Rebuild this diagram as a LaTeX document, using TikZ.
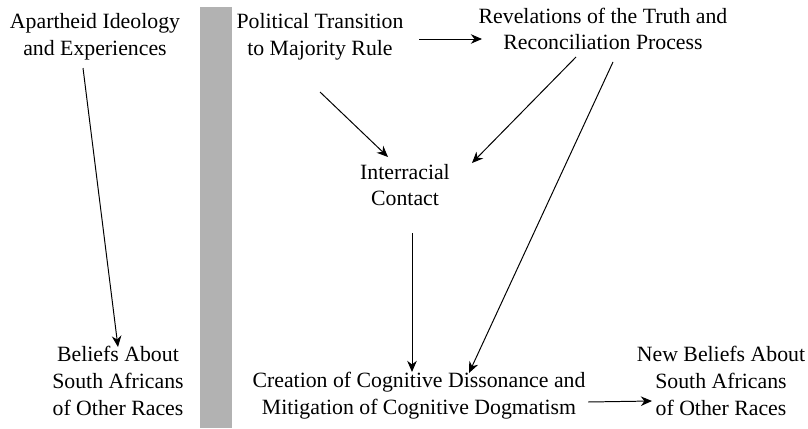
\documentclass[tikz,border=0pt]{standalone}
\usepackage{fontspec}
\setmainfont{Liberation Serif}
\usetikzlibrary{arrows.meta, calc}

\begin{document}
\begin{tikzpicture}[x=0.025cm, y=-0.025cm, >={Stealth[length=2.8mm, width=2.4mm]},
  box/.style={align=center, inner sep=0pt, font=\fontsize{15.5}{19}\selectfont},
  link/.style={->, line width=0.7pt}]
\useasboundingbox (0,0) rectangle (808,428);
% 分隔条
\fill[black!30] (200,7) rectangle (232,428);
% 左侧
\node[box] (apart) at (95,37) {Apartheid Ideology\\and Experiences};
\node[box] (belief) at (118,381) {Beliefs About\\South Africans\\of Other Races};
% 右侧
\node[box] (polit) at (320,37) {Political Transition\\to Majority Rule};
\node[box] (revel) at (603,29) {Revelations of the Truth and\\Reconciliation Process};
\node[box] (inter) at (405,185) {Interracial\\Contact};
\node[box] (creat) at (419,396) {Creation of Cognitive Dissonance and\\Mitigation of Cognitive Dogmatism};
\node[box] (newbel) at (721,381) {New Beliefs About\\South Africans\\of Other Races};
% 箭头
\draw[link] ($(apart)+(-12,31)$) -- ($(belief)+(0,-34)$);
\draw[link] ($(polit)+(99,2)$) -- ($(revel)+(-121,10)$);
\draw[link] ($(polit)+(0,55)$) -- ($(inter)+(-17,-28)$);
\draw[link] ($(revel)+(-27,28)$) -- ($(inter)+(67,-22)$);
\draw[link] ($(revel)+(10,33)$) -- ($(creat)+(50,-23)$);
\draw[link] ($(inter)+(7,48)$) -- ($(creat)+(-7,-24)$);
\draw[link] ($(creat)+(169,6)$) -- ($(newbel)+(-69,20)$);
\end{tikzpicture}
\end{document}
